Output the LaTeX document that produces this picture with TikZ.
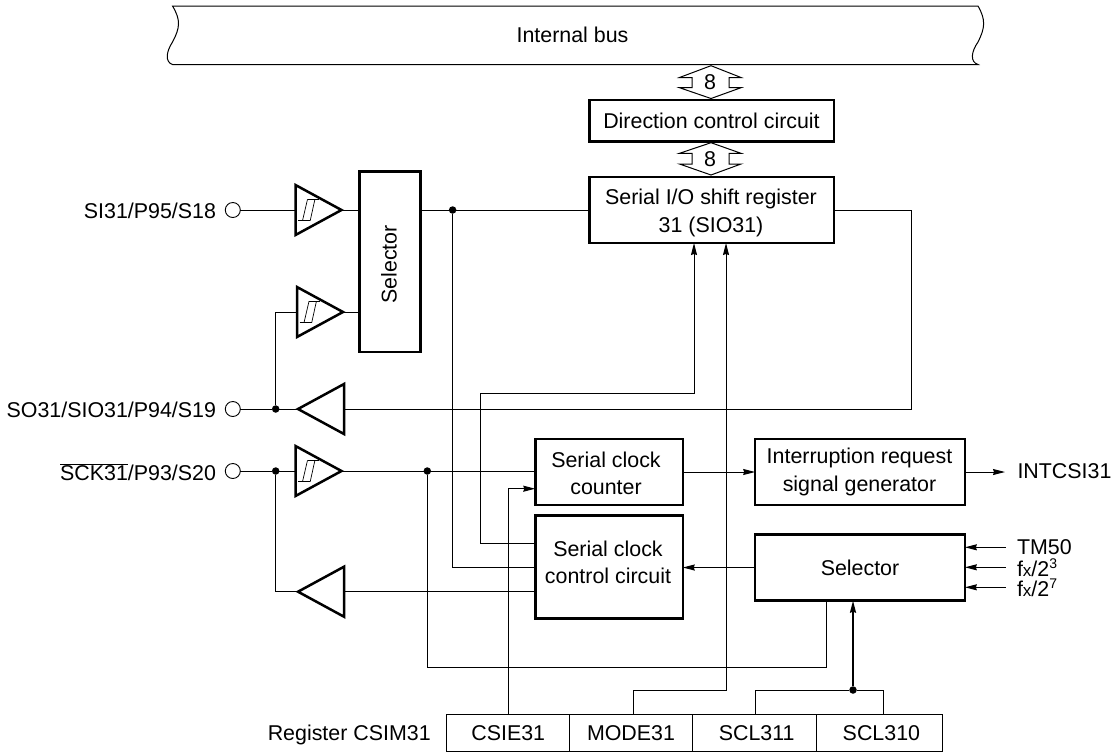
\documentclass[tikz,border=0pt]{standalone}
\usepackage{fontspec}
\setmainfont{Liberation Sans}
\usetikzlibrary{arrows.meta,shapes.geometric}
\newcommand{\fxrate}[1]{f{\fontsize{17}{17}\selectfont x}/2\smash{\raisebox{8pt}{\fontsize{14}{14}\selectfont #1}}}
\newcommand{\schmitt}[1]{%
  \draw[wire, line width=0.7pt] ([xshift=12,yshift=10.7]#1.lower side) -- ++(11,0);
  \draw[wire, line width=0.7pt] ([xshift=2.7,yshift=-10.7]#1.lower side) -- ++(12,0);
  \draw[wire, line width=0.7pt] ([xshift=12,yshift=10.7]#1.lower side) -- ++(-5,21.4);
  \draw[wire, line width=0.7pt] ([xshift=19.4,yshift=10.7]#1.lower side) -- ++(-4.7,21.4);
}
\begin{document}
\begin{tikzpicture}[
    x=1pt, y=-1pt,
    every node/.style={font=\fontsize{21.4}{27.3}\selectfont, inner sep=0, outer sep=0},
    block/.style={rectangle, draw, line width=2.5pt, align=center},
    blocktext/.style={align=center},
    regcell/.style={rectangle, draw, line width=1pt, minimum height=36.7},
    term/.style={circle, draw, line width=0.9pt, minimum size=15},
    jdot/.style={circle, fill=black, minimum size=7.5},
    buffer/.style={isosceles triangle, isosceles triangle apex angle=58, isosceles triangle stretches, draw, line width=2.5pt, minimum width=50, minimum height=46, anchor=apex},
    wire/.style={line width=1pt},
    arrow/.style={wire, -{Stealth[length=12pt,width=6pt,inset=1pt]}}
]
\useasboundingbox (0,0) rectangle (1115,753);

% Bus
\draw[wire] (172.5,6) -- (978,6) .. controls (986,20) and (985,28) .. (978,42) .. controls (971,52) and (970,62) .. (978,64.5)
  -- (172.5,64.5) .. controls (165,62) and (166,52) .. (172.5,42) .. controls (180,28) and (181,20) .. (172.5,6) -- cycle;
\node (bus) at (572.5,35) {Internal bus};

% Bus width marks
\draw[wire] (711,65.7) -- (741,77.5) -- (729,77.5) -- (729,87.7) -- (741,87.7) -- (711,98.5) -- (679.5,87.7) -- (692,87.7) -- (692,77.5) -- (679.5,77.5) -- cycle;
\node (wa) at (710,82.5) {8};
\draw[wire] (711,142.7) -- (741,153.3) -- (729,153.3) -- (729,164) -- (741,164) -- (711,175) -- (679.5,164) -- (692,164) -- (692,153.3) -- (679.5,153.3) -- cycle;
\node (wb) at (710,159.5) {8};

% Blocks
\node[block, minimum width=244.5, minimum height=41.5] (dir) at (711.5,120.5) {Direction control circuit};
\node[block, minimum width=244.5, minimum height=66] (sio) at (711.5,210) {};
\node[blocktext] (siot) at (711,213) {Serial I/O shift register\\31 (SIO31)};
\node[block, minimum width=61, minimum height=180.5] (selv) at (390,261.5) {};
\node[rotate=90] (selvt) at (389,264.5) {Selector};
\node[block, minimum width=147.5, minimum height=66] (cnt) at (609,472) {};
\node[blocktext] (cntt) at (606,473.5) {Serial clock\\counter};
\node[block, minimum width=147.5, minimum height=102.6] (ctl) at (609,567) {};
\node[blocktext] (ctlt) at (608,562.3) {Serial clock\\control circuit};
\node[block, minimum width=209.7, minimum height=66] (irq) at (860,472) {};
\node[blocktext] (irqt) at (859.5,472) {Interruption request\\signal generator};
\node[block, minimum width=209.7, minimum height=66.4] (sel) at (860,567.5) {Selector};

% Buffers
\node[buffer] (bufa) at (341.5,210) {};
\node[buffer] (bufb) at (343,312) {};
\node[buffer] (bufc) at (341.5,471) {};
\node[buffer, shape border rotate=180] (bufd) at (298,409) {};
\node[buffer, shape border rotate=180] (bufe) at (298,591.7) {};
\schmitt{bufa}
\schmitt{bufb}
\schmitt{bufc}

% Pins
\node[term] (pina) at (232.8,210) {};
\node[term] (pinb) at (232.8,409) {};
\node[term] (pinc) at (232.8,471) {};
\node[anchor=east] (lblb) at (216,211) {SI31/P95/S18};
\node[anchor=east] (lblc) at (216,410) {SO31/SIO31/P94/S19};
\node[anchor=east] (lbld) at (216,472) {$\overline{\mbox{SCK31}}$/P93/S20};

% Register
\node[regcell, minimum width=122.5] (csie) at (508.2,732.7) {CSIE31};
\node[regcell, minimum width=123.4] (mode) at (631,732.7) {MODE31};
\node[regcell, minimum width=124] (sclb) at (754.7,732.7) {\hspace*{4pt}SCL311};
\node[regcell, minimum width=125.3] (sclc) at (879.4,732.7) {\hspace*{4pt}SCL310};
\node[anchor=east] (reg) at (430.7,735) {Register CSIM31};

% Right side labels
\node[anchor=west] (intr) at (1017.5,471) {INTCSI31};
\node[anchor=base west] (tm) at (1017,554.5) {TM50};
\node[anchor=base west] (fxa) at (1017,576) {\fxrate{3}};
\node[anchor=base west] (fxb) at (1017,596.5) {\fxrate{7}};

% Joints
\node[jdot] (ja) at (452.6,210) {};
\node[jdot] (jb) at (275.7,409) {};
\node[jdot] (jc) at (275.7,471) {};
\node[jdot] (jd) at (427.3,471) {};
\node[jdot] (je) at (853,690) {};

% Input paths
\draw[wire] (pina) -- (bufa.lower side);
\draw[wire] (bufa.apex) -- (bufa.apex -| selv.west);
\draw[wire] (bufb.apex) -- (bufb.apex -| selv.west);
\draw[wire] (selv.east |- ja) -- (ja) -- (ja -| sio.west);
\draw[wire] (ja) |- (ctl.west |- 0,567);
\draw[wire] (bufb.lower side) -| (jb);
\draw[wire] (pinb) -- (jb) -- (bufd.apex);
\draw[wire] (bufd.lower side) -- (bufd.lower side -| 911,0) |- (sio.east |- 0,210);
\draw[wire] (pinc) -- (jc) -- (bufc.lower side);
\draw[wire] (bufc.apex) -- (jd) -- (jd -| cnt.west);
\draw[wire] (jc) |- (bufe.apex);
\draw[wire] (bufe.lower side) -- (bufe.lower side -| ctl.west);
\draw[wire] (jd) |- (826.7,667.7) -- (826.7,667.7 |- sel.south);

% Control paths
\draw[arrow] (ctl.west |- 0,543.3) -| (480.3,393.3) -| (694,393.3 |- sio.south);
\draw[arrow] (csie.north -| 508.3,0) |- (cnt.west |- 0,488.7);
\draw[arrow] (mode.north -| 633.3,0) |- (726,690.7) -- (726,690.7 |- sio.south);
\draw[wire] (sclb.north -| 755,0) |- (je) -| (sclc.north -| 883.3,0);
\draw[arrow, line width=1.5pt] (je) -- (je |- sel.south);

% Outputs
\coordinate (outa) at (1005,472);
\coordinate (ina) at (1005.5,547.3);
\coordinate (inb) at (1005.5,567.3);
\coordinate (inc) at (1005.5,587.3);
\draw[arrow] (cnt.east |- irq.west) -- (irq.west);
\draw[arrow] (irq.east) -- (outa);
\draw[arrow] (sel.west) -- (ctl.east |- sel.west);
\draw[arrow] (ina) -- (ina -| sel.east);
\draw[arrow] (inb) -- (inb -| sel.east);
\draw[arrow] (inc) -- (inc -| sel.east);

\end{tikzpicture}
\end{document}
